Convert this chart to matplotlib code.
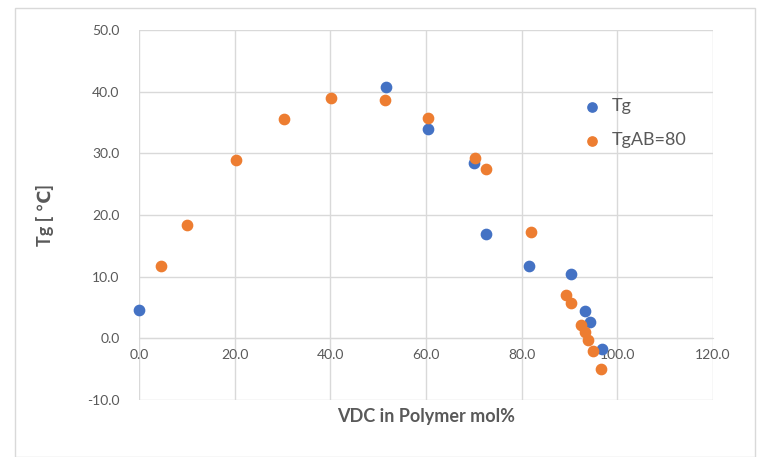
import matplotlib
matplotlib.use("Agg")
import matplotlib.pyplot as plt
from matplotlib.patches import Rectangle

plt.rcParams['font.family'] = ['Lato', 'DejaVu Sans']

# Data
tg_x = [0.0, 51.7, 60.5, 70.0, 72.6, 81.6, 90.3, 93.2, 94.3, 96.8]
tg_y = [4.6, 40.8, 34.0, 28.5, 17.0, 11.8, 10.5, 4.4, 2.6, -1.8]

ab_x = [4.6, 10.1, 20.3, 30.4, 40.1, 51.5, 60.5, 70.3, 72.6, 81.9,
        89.2, 90.3, 92.4, 93.2, 93.9, 94.9, 96.6]
ab_y = [11.8, 18.3, 29.0, 35.6, 39.0, 38.7, 35.8, 29.3, 27.5, 17.3,
        7.1, 5.8, 2.1, 1.0, -0.2, -2.1, -4.9]

x_ticks = [0, 20, 40, 60, 80, 100, 120]
y_ticks = [-10, 0, 10, 20, 30, 40, 50]

blue = '#4472C4'
orange = '#ED7D31'
grid_c = '#D9D9D9'
text_c = '#595959'

fig = plt.figure(figsize=(7.57, 4.57), dpi=100)
fig.patches.append(Rectangle((15/757, 0), 740/757, 1 - 8/457, transform=fig.transFigure,
                             fill=False, edgecolor=grid_c, linewidth=1.0))

ax = fig.add_axes([139/757, 1 - 400/457, (713 - 139)/757, (400 - 30)/457])
ax.set_xlim(0, 120)
ax.set_ylim(-10, 50)
ax.set_xticks(x_ticks)
ax.set_yticks(y_ticks)
ax.set_xticklabels([f"{v:.1f}" for v in x_ticks])
ax.set_yticklabels([f"{v:.1f}" for v in y_ticks])
ax.grid(True, color=grid_c, linewidth=1.0)
ax.set_axisbelow(True)
for s in ['top', 'right', 'left']:
    ax.spines[s].set_visible(False)
ax.spines['bottom'].set_position(('data', 0))
ax.spines['bottom'].set_color(grid_c)
ax.tick_params(axis='both', length=0, labelsize=10, colors=text_c)
ax.tick_params(axis='x', pad=8)
ax.tick_params(axis='y', pad=14)

ax.scatter(tg_x, tg_y, s=55, color=blue, label='Tg', zorder=3, clip_on=False)
ax.scatter(ab_x, ab_y, s=55, color=orange, label='TgAB=80', zorder=3, clip_on=False)

ax.set_xlabel('VDC in Polymer mol%', fontsize=13, fontweight='bold', color=text_c)
ax.xaxis.set_label_coords(0.5, -0.022)
ax.set_ylabel('Tg [ ℃]', fontsize=13, fontweight='bold', color=text_c)
ax.yaxis.set_label_coords(-0.148, 0.5)

leg = ax.legend(loc='upper left', bbox_to_anchor=(0.745, 0.835), frameon=False,
                fontsize=13, handletextpad=0.1, labelspacing=1.0, markerscale=0.9,
                borderaxespad=0)
for t in leg.get_texts():
    t.set_color(text_c)

fig.savefig('out.png', dpi=100)
